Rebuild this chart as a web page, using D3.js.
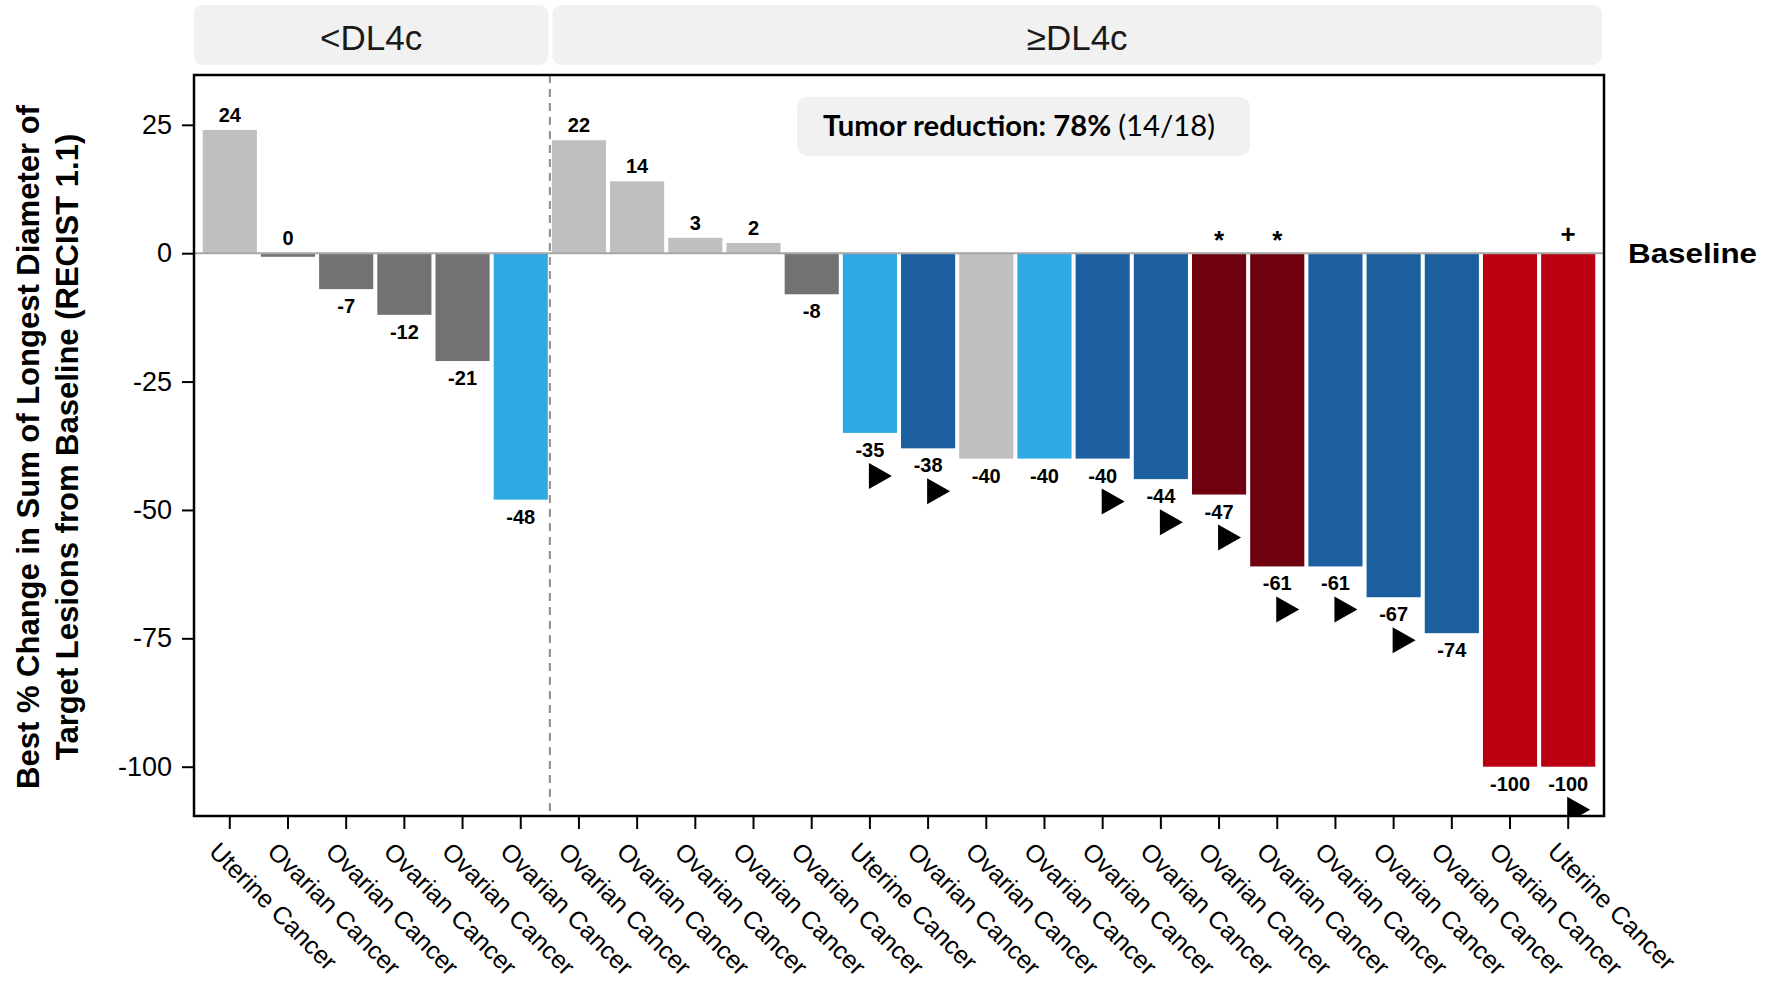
<!DOCTYPE html>
<html>
<head>
<meta charset="utf-8">
<script src="https://cdn.jsdelivr.net/npm/d3@7"></script>
<style>
  body { margin: 0; background: #fff; }
  svg { display: block; font-family: "Liberation Sans", Arial, sans-serif; }
</style>
</head>
<body>
<div id="chart"></div>
<script>
const width = 1765;
const height = 983;
const margin = { top: 75, right: 161, bottom: 167, left: 194 };

// one entry per patient, left to right
const cancers = [
  "Uterine Cancer",
  "Ovarian Cancer", "Ovarian Cancer", "Ovarian Cancer", "Ovarian Cancer", "Ovarian Cancer",
  "Ovarian Cancer", "Ovarian Cancer", "Ovarian Cancer", "Ovarian Cancer", "Ovarian Cancer",
  "Uterine Cancer",
  "Ovarian Cancer", "Ovarian Cancer", "Ovarian Cancer", "Ovarian Cancer", "Ovarian Cancer",
  "Ovarian Cancer", "Ovarian Cancer", "Ovarian Cancer", "Ovarian Cancer", "Ovarian Cancer",
  "Ovarian Cancer",
  "Uterine Cancer",
];
const doses = [
  "<DL4c", "<DL4c", "<DL4c", "<DL4c", "<DL4c", "<DL4c",
  "≥DL4c", "≥DL4c", "≥DL4c", "≥DL4c", "≥DL4c", "≥DL4c",
  "≥DL4c", "≥DL4c", "≥DL4c", "≥DL4c", "≥DL4c", "≥DL4c",
  "≥DL4c", "≥DL4c", "≥DL4c", "≥DL4c", "≥DL4c", "≥DL4c",
];
const changes = [
  24, -0.7, -7, -12, -21, -48,
  22, 14, 3, 2, -8, -35,
  -38, -40, -40, -40, -44, -47,
  -61, -61, -67, -74, -100, -100,
];
const colorKeys = [
  "lightgray", "gray", "gray", "gray", "gray", "lightblue",
  "lightgray", "lightgray", "lightgray", "lightgray", "gray", "lightblue",
  "blue", "lightgray", "lightblue", "blue", "blue", "darkred",
  "darkred", "blue", "blue", "blue", "red", "red",
];
const ongoing = [
  0, 0, 0, 0, 0, 0,
  0, 0, 0, 0, 0, 1,
  1, 0, 0, 1, 1, 1,
  1, 1, 1, 0, 0, 1,
];
const notes = [
  "", "", "", "", "", "",
  "", "", "", "", "", "",
  "", "", "", "", "", "*",
  "*", "", "", "", "", "+",
];
const yTicks = [25, 0, -25, -50, -75, -100];

const palette = {
  lightgray: "#bfbfbf",
  gray: "#727272",
  lightblue: "#2ea9e1",
  blue: "#1b5f9e",
  darkred: "#6e0010",
  red: "#bb0011",
};

const svg = d3
  .select("#chart")
  .append("svg")
  .attr("width", width)
  .attr("height", height);

const x = d3
  .scaleBand()
  .domain(d3.range(changes.length))
  .range([margin.left, width - margin.right])
  .paddingInner(0.07)
  .paddingOuter(0.15);
const y = d3
  .scaleLinear()
  .domain([-109.6, 34.7])
  .range([height - margin.bottom, margin.top]);
const bw = x.bandwidth();
const cx = (i) => x(i) + bw / 2;

svg
  .append("defs")
  .append("clipPath")
  .attr("id", "panel")
  .append("rect")
  .attr("x", margin.left)
  .attr("y", margin.top)
  .attr("width", width - margin.left - margin.right)
  .attr("height", height - margin.top - margin.bottom);

// Facet strips
const groups = d3.groups(d3.range(changes.length), (i) => doses[i]);
const splitX = (i) => (x(i - 1) + bw + x(i)) / 2;
groups.forEach(([name, idx], g) => {
  const first = idx[0];
  const last = idx[idx.length - 1];
  const x0 = g === 0 ? margin.left : splitX(first) + 2.5;
  const x1 = g === groups.length - 1 ? width - margin.right - 2 : splitX(last + 1) - 1.5;
  svg
    .append("rect")
    .attr("x", x0)
    .attr("y", 5)
    .attr("width", x1 - x0)
    .attr("height", 60)
    .attr("rx", 9)
    .attr("fill", "#f1f1f1");
  svg
    .append("text")
    .attr("x", (x0 + x1) / 2)
    .attr("y", 50)
    .attr("text-anchor", "middle")
    .attr("font-size", 35)
    .attr("fill", "#1a1a1a")
    .text(name);
  // dashed divider between dose groups
  if (g > 0) {
    svg
      .append("line")
      .attr("x1", splitX(first))
      .attr("x2", splitX(first))
      .attr("y1", margin.top)
      .attr("y2", height - margin.bottom)
      .attr("stroke", "#8c8c8c")
      .attr("stroke-width", 2)
      .attr("stroke-dasharray", "8,6");
  }
});

// Bars
svg
  .append("g")
  .selectAll("rect")
  .data(changes)
  .join("rect")
  .attr("x", (d, i) => x(i))
  .attr("y", (d) => y(Math.max(d, 0)))
  .attr("width", bw)
  .attr("height", (d) => Math.abs(y(d) - y(0)))
  .attr("fill", (d, i) => palette[colorKeys[i]]);

// Baseline reference line
svg
  .append("line")
  .attr("x1", margin.left)
  .attr("x2", width - margin.right)
  .attr("y1", y(0))
  .attr("y2", y(0))
  .attr("stroke", "#a6a6a6")
  .attr("stroke-width", 2);

// Value labels
svg
  .append("g")
  .selectAll("text")
  .data(changes)
  .join("text")
  .attr("x", (d, i) => cx(i))
  .attr("y", (d) => (d > -1 ? y(Math.max(d, 0)) - 8 : y(d) + 24))
  .attr("text-anchor", "middle")
  .attr("font-size", 20)
  .attr("font-weight", "bold")
  .text((d) => String(Math.trunc(d)));

// Ongoing response markers
svg
  .append("g")
  .attr("clip-path", "url(#panel)")
  .selectAll("polygon")
  .data(changes.map((d, i) => i).filter((i) => ongoing[i]))
  .join("polygon")
  .attr("points", (i) => {
    const px = cx(i);
    const py = y(changes[i]) + 43;
    return `${px - 1},${py - 13} ${px - 1},${py + 13} ${px + 22},${py}`;
  })
  .attr("fill", "#000");

// Footnote symbols
svg
  .append("g")
  .selectAll("text")
  .data(changes.map((d, i) => i).filter((i) => notes[i]))
  .join("text")
  .attr("x", (i) => cx(i))
  .attr("y", y(0) - 19)
  .attr("dy", (i) => (notes[i] === "*" ? "0.58em" : "0.35em"))
  .attr("text-anchor", "middle")
  .attr("font-size", 26)
  .attr("font-weight", "bold")
  .text((i) => notes[i]);

// Axes
const yAxis = svg
  .append("g")
  .attr("transform", `translate(${margin.left},0)`)
  .call(
    d3
      .axisLeft(y)
      .tickValues(yTicks)
      .tickSize(12)
      .tickPadding(10)
      .tickFormat((d) => String(d))
  );
yAxis.select(".domain").remove();
yAxis.selectAll(".tick line").attr("stroke", "#000").attr("stroke-width", 2);
yAxis
  .selectAll(".tick text")
  .attr("font-size", 27)
  .attr("font-family", "Liberation Sans, Arial, sans-serif")
  .attr("fill", "#000");

const xAxis = svg
  .append("g")
  .attr("transform", `translate(0,${height - margin.bottom})`)
  .call(d3.axisBottom(x).tickSize(13).tickFormat((i) => cancers[i]));
xAxis.select(".domain").remove();
xAxis.selectAll(".tick line").attr("stroke", "#000").attr("stroke-width", 2);
xAxis
  .selectAll(".tick text")
  .attr("x", 0)
  .attr("y", 0)
  .attr("dy", 0)
  .attr("text-anchor", "start")
  .attr("transform", "translate(-22,37) rotate(45)")
  .attr("font-size", 25)
  .attr("font-family", "Liberation Sans, Arial, sans-serif")
  .attr("fill", "#000");

// Panel border
svg
  .append("rect")
  .attr("x", margin.left)
  .attr("y", margin.top)
  .attr("width", width - margin.left - margin.right)
  .attr("height", height - margin.top - margin.bottom)
  .attr("fill", "none")
  .attr("stroke", "#000")
  .attr("stroke-width", 2.5);

// Y axis title
const titleLines = [
  "Best % Change in Sum of Longest Diameter of",
  "Target Lesions from Baseline (RECIST 1.1)",
];
titleLines.forEach((line, k) => {
  svg
    .append("text")
    .attr("transform", `translate(${39 + k * 39},447) rotate(-90)`)
    .attr("text-anchor", "middle")
    .attr("font-size", 31)
    .attr("font-weight", "bold")
    .text(line);
});

// Baseline label
svg
  .append("text")
  .attr("x", 1628)
  .attr("y", y(0) + 10)
  .attr("font-size", 28)
  .attr("font-weight", "bold")
  .attr("textLength", 129)
  .attr("lengthAdjust", "spacingAndGlyphs")
  .text("Baseline");

// Response summary box
svg
  .append("rect")
  .attr("x", 797)
  .attr("y", 97)
  .attr("width", 453)
  .attr("height", 59)
  .attr("rx", 10)
  .attr("fill", "#f1f1f1");
const summary = svg
  .append("text")
  .attr("x", 823)
  .attr("y", 136)
  .attr("font-family", "Lato, 'Open Sans', sans-serif")
  .attr("font-size", 28)
  .attr("textLength", 392)
  .attr("lengthAdjust", "spacingAndGlyphs");
summary.append("tspan").attr("font-weight", "bold").text("Tumor reduction: 78% ");
summary.append("tspan").text("(14/18)");
</script>
</body>
</html>
